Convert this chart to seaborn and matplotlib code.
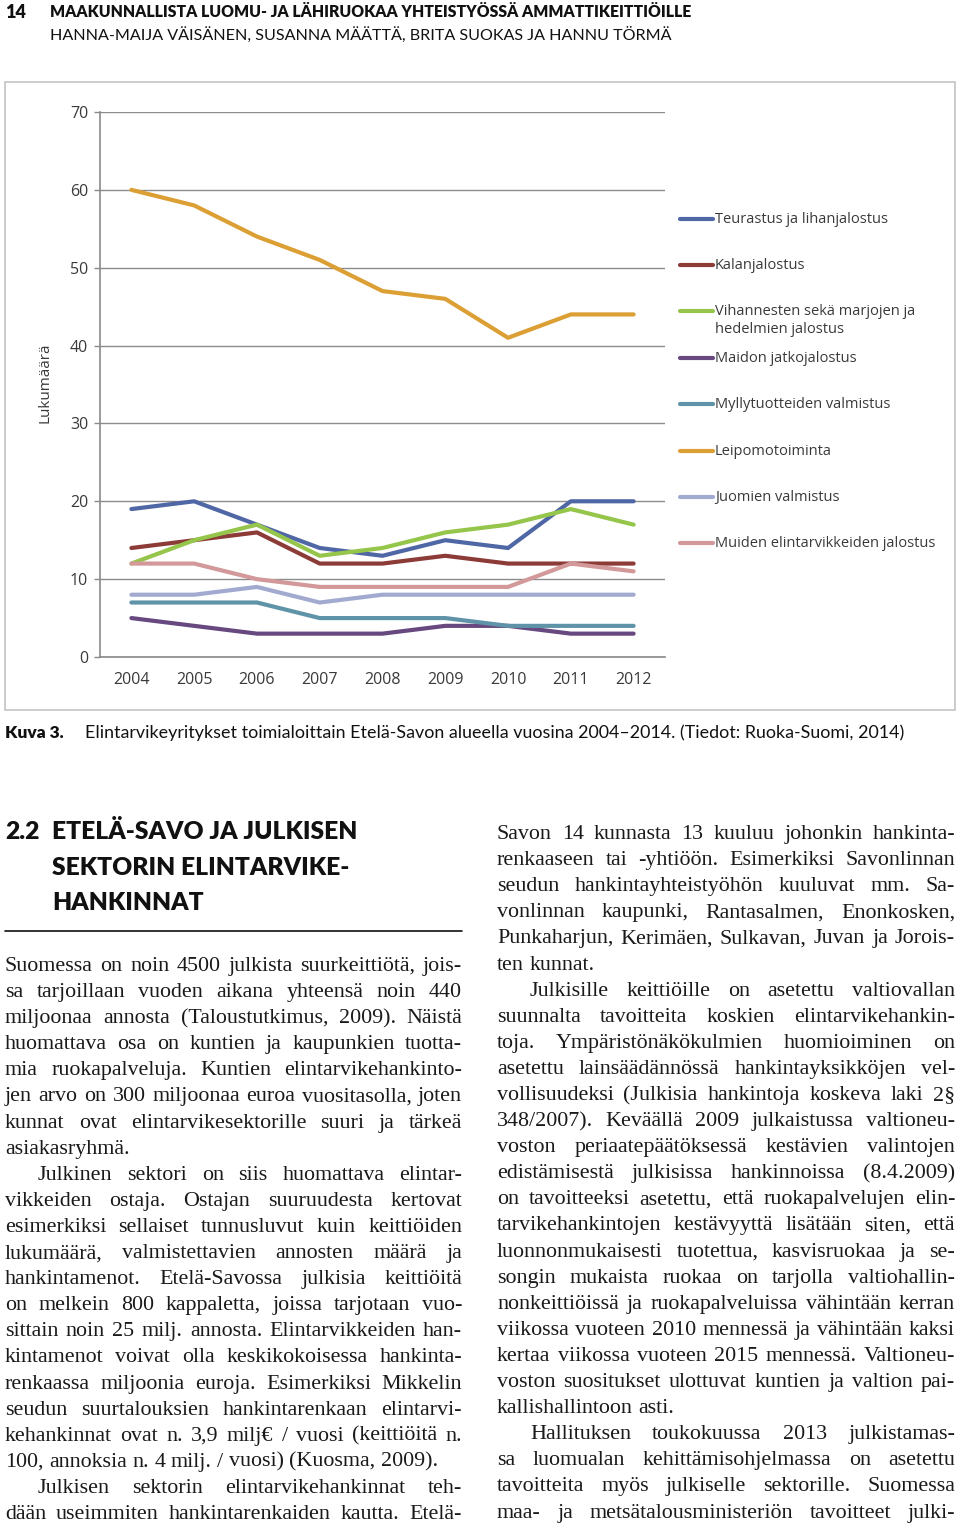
import numpy as np
import pandas as pd
import seaborn as sns
import matplotlib.pyplot as plt
from matplotlib.lines import Line2D
from matplotlib.patches import Rectangle

sns.set_style("white")
plt.rcParams['font.family'] = ['Open Sans', 'DejaVu Sans']

W, H = 960, 1530

# --- chart data ---
years = [2004, 2005, 2006, 2007, 2008, 2009, 2010, 2011, 2012]
categories = ["Teurastus ja lihanjalostus", "Kalanjalostus",
              "Vihannesten sekä marjojen ja\nhedelmien jalostus",
              "Maidon jatkojalostus", "Myllytuotteiden valmistus",
              "Leipomotoiminta", "Juomien valmistus",
              "Muiden elintarvikkeiden jalostus"]
teurastus = [19, 20, 17, 14, 13, 15, 14, 20, 20]
kalanjalostus = [14, 15, 16, 12, 12, 13, 12, 12, 12]
vihannes = [12, 15, 17, 13, 14, 16, 17, 19, 17]
maidon = [5, 4, 3, 3, 3, 4, 4, 3, 3]
mylly = [7, 7, 7, 5, 5, 5, 4, 4, 4]
leipomo = [60, 58, 54, 51, 47, 46, 41, 44, 44]
juomien = [8, 8, 9, 7, 8, 8, 8, 8, 8]
muiden = [12, 12, 10, 9, 9, 9, 9, 12, 11]
colors = ["#5067a6", "#8c3b37", "#95c54a", "#67497f",
          "#5f93a8", "#dc9f34", "#a3aad0", "#d3999a"]
yticks = [0, 10, 20, 30, 40, 50, 60, 70]

series = [teurastus, kalanjalostus, vihannes, maidon, mylly, leipomo, juomien, muiden]
df = pd.DataFrame({
    "year": years * len(categories),
    "value": [v for s in series for v in s],
    "category": [c for c in categories for _ in years],
})

# --- text content ---
header1 = "MAAKUNNALLISTA LUOMU- JA LÄHIRUOKAA YHTEISTYÖSSÄ AMMATTIKEITTIÖILLE"
header2 = "HANNA-MAIJA VÄISÄNEN, SUSANNA MÄÄTTÄ, BRITA SUOKAS JA HANNU TÖRMÄ"
caption = "Elintarvikeyritykset toimialoittain Etelä-Savon alueella vuosina 2004–2014. (Tiedot: Ruoka-Suomi, 2014)"
heading = ["ETELÄ-SAVO JA JULKISEN", "SEKTORIN ELINTARVIKE-", "HANKINNAT"]

# (indent, paragraph ends in this column, lines)
left_col = [
    (False, True, [
        "Suomessa on noin 4500 julkista suurkeittiötä, jois-",
        "sa tarjoillaan vuoden aikana yhteensä noin 440",
        "miljoonaa annosta (Taloustutkimus, 2009). Näistä",
        "huomattava osa on kuntien ja kaupunkien tuotta-",
        "mia ruokapalveluja. Kuntien elintarvikehankinto-",
        "jen arvo on 300 miljoonaa euroa vuositasolla, joten",
        "kunnat ovat elintarvikesektorille suuri ja tärkeä",
        "asiakasryhmä."]),
    (True, True, [
        "Julkinen sektori on siis huomattava elintar-",
        "vikkeiden ostaja. Ostajan suuruudesta kertovat",
        "esimerkiksi sellaiset tunnusluvut kuin keittiöiden",
        "lukumäärä, valmistettavien annosten määrä ja",
        "hankintamenot. Etelä-Savossa julkisia keittiöitä",
        "on melkein 800 kappaletta, joissa tarjotaan vuo-",
        "sittain noin 25 milj. annosta. Elintarvikkeiden han-",
        "kintamenot voivat olla keskikokoisessa hankinta-",
        "renkaassa miljoonia euroja. Esimerkiksi Mikkelin",
        "seudun suurtalouksien hankintarenkaan elintarvi-",
        "kehankinnat ovat n. 3,9 milj€ / vuosi (keittiöitä n.",
        "100, annoksia n. 4 milj. / vuosi) (Kuosma, 2009)."]),
    (True, False, [
        "Julkisen sektorin elintarvikehankinnat teh-",
        "dään useimmiten hankintarenkaiden kautta. Etelä-"]),
]
right_col = [
    (False, True, [
        "Savon 14 kunnasta 13 kuuluu johonkin hankinta-",
        "renkaaseen tai -yhtiöön. Esimerkiksi Savonlinnan",
        "seudun hankintayhteistyöhön kuuluvat mm. Sa-",
        "vonlinnan kaupunki, Rantasalmen, Enonkosken,",
        "Punkaharjun, Kerimäen, Sulkavan, Juvan ja Jorois-",
        "ten kunnat."]),
    (True, True, [
        "Julkisille keittiöille on asetettu valtiovallan",
        "suunnalta tavoitteita koskien elintarvikehankin-",
        "toja. Ympäristönäkökulmien huomioiminen on",
        "asetettu lainsäädännössä hankintayksikköjen vel-",
        "vollisuudeksi (Julkisia hankintoja koskeva laki 2§",
        "348/2007). Keväällä 2009 julkaistussa valtioneu-",
        "voston periaatepäätöksessä kestävien valintojen",
        "edistämisestä julkisissa hankinnoissa (8.4.2009)",
        "on tavoitteeksi asetettu, että ruokapalvelujen elin-",
        "tarvikehankintojen kestävyyttä lisätään siten, että",
        "luonnonmukaisesti tuotettua, kasvisruokaa ja se-",
        "songin mukaista ruokaa on tarjolla valtiohallin-",
        "nonkeittiöissä ja ruokapalveluissa vähintään kerran",
        "viikossa vuoteen 2010 mennessä ja vähintään kaksi",
        "kertaa viikossa vuoteen 2015 mennessä. Valtioneu-",
        "voston suositukset ulottuvat kuntien ja valtion pai-",
        "kallishallintoon asti."]),
    (True, False, [
        "Hallituksen toukokuussa 2013 julkistamas-",
        "sa luomualan kehittämisohjelmassa on asetettu",
        "tavoitteita myös julkiselle sektorille. Suomessa",
        "maa- ja metsätalousministeriön tavoitteet julki-"]),
]

fig = plt.figure(figsize=(W / 100, H / 100), dpi=100)
fig.patch.set_facecolor("white")
r = fig.canvas.get_renderer()


def fx(x):
    return x / W


def fy(y):
    return 1 - y / H


# --- chart ---
fig.add_artist(Rectangle((fx(5), fy(710)), fx(950), (710 - 82) / H,
                         transform=fig.transFigure, fill=False,
                         edgecolor="#c8c8c8", lw=1.3))

ax = fig.add_axes([fx(100), fy(657), (665 - 100) / W, (657 - 112) / H])
pal = dict(zip(categories, colors))
sns.lineplot(data=df, x="year", y="value", hue="category", hue_order=categories,
             palette=pal, linewidth=3.0, legend=False, ax=ax,
             solid_capstyle="round")
ax.set_xlim(years[0] - 0.5, years[-1] + 0.5)
ax.set_ylim(0, 70)
ax.set_yticks(yticks)
ax.set_xticks(years)
ax.set_xticks(np.arange(years[0] - 0.5, years[-1] + 1, 1), minor=True)
ax.tick_params(axis="x", which="major", length=0, pad=11, labelsize=11.5, colors="#3a3a3a")
ax.tick_params(axis="x", which="minor", length=4.5, width=1, color="#8a8a8a", direction="out")
ax.tick_params(axis="y", length=4.5, width=1, color="#8a8a8a", direction="out",
               pad=4, labelsize=11.5, labelcolor="#3a3a3a", left=True)
ax.set_xlabel("")
ax.set_ylabel("")
for sp in ["top", "right"]:
    ax.spines[sp].set_visible(False)
for sp in ["left", "bottom"]:
    ax.spines[sp].set_color("#8a8a8a")
    ax.spines[sp].set_linewidth(1.2)
ax.yaxis.grid(True, color="#8c8c8c", lw=1.0)
ax.set_axisbelow(True)
ax.set_facecolor("none")

fig.text(fx(45), fy(383), "Lukumäärä", rotation=90, ha="center", va="center",
         fontsize=11, color="#3a3a3a")

# legend (drawn by hand so the wrapped entry keeps Excel-like spacing)
leg_y = [219, 265, 311, 358, 404, 451, 497, 543]
for lab, col, ly in zip(categories, colors, leg_y):
    fig.add_artist(Line2D([fx(680), fx(713)], [fy(ly), fy(ly)], transform=fig.transFigure,
                          color=col, lw=3.0, solid_capstyle="round"))
    fig.text(fx(715), fy(ly - 7), lab, ha="left", va="top", fontsize=10.5,
             color="#3a3a3a", linespacing=1.3)


def fit_text(x0, x1, yc, s, size, **kw):
    t = fig.text(fx(x0), fy(yc), s, fontsize=size, ha="left", va="center", **kw)
    w = t.get_window_extent(r).width
    t.set_fontsize(size * (x1 - x0) / w)
    return t


# --- page header ---
sans_c = ["Lato", "DejaVu Sans"]
fig.text(fx(5), fy(12), "14", fontsize=13, fontweight="heavy", ha="left", va="center",
         family=sans_c, color="#111111")
fit_text(50, 690, 12, header1, 12, fontweight="heavy", family=sans_c, color="#111111")
fit_text(50, 670, 35, header2, 12, family=sans_c, color="#111111")

# --- caption ---
fit_text(5, 64, 733, "Kuva 3.", 11, fontweight="heavy", family=sans_c, color="#111111")
fit_text(85, 903, 733, caption, 11, family=sans_c, color="#111111")

# --- section heading ---
h1 = fit_text(52, 357, 832, heading[0], 18, fontweight="heavy", family=sans_c, color="#111111")
hs = h1.get_fontsize()
fig.text(fx(5), fy(832), "2.2", fontsize=hs, fontweight="heavy", family=sans_c,
         ha="left", va="center", color="#111111")
for line, yc in zip(heading[1:], [868, 903]):
    fig.text(fx(52), fy(yc), line, fontsize=hs, fontweight="heavy", family=sans_c,
             ha="left", va="center", color="#111111")
fig.add_artist(Line2D([fx(5), fx(462)], [fy(931), fy(931)], transform=fig.transFigure,
                      color="#111111", lw=1.2))

# --- body text, justified ---
serif = ["Liberation Serif", "DejaVu Serif"]
base_size = 14.0


def text_w(s, size):
    t = fig.text(0, 0, s, fontsize=size, family=serif)
    w = t.get_window_extent(r).width
    t.remove()
    return w


# pick the largest size at which every justified line still fits its column
sp0 = text_w("a a", base_size) - text_w("aa", base_size)
ratios = []
for paras, width in [(left_col, 457), (right_col, 458)]:
    for ind, ends, lines in paras:
        for i, line in enumerate(lines):
            if ends and i == len(lines) - 1:
                continue
            words = line.split(" ")
            nat = sum(text_w(w, base_size) for w in words) + sp0 * (len(words) - 1)
            avail = width - (33 if (ind and i == 0) else 0)
            ratios.append(avail / nat)
body_size = base_size * min(ratios) * 0.995
space_w = text_w("a a", body_size) - text_w("aa", body_size)


def set_column(paras, x0, x1, y0, dy, indent=33):
    yb = y0
    for ind, ends, lines in paras:
        for i, line in enumerate(lines):
            start = x0 + (indent if (ind and i == 0) else 0)
            words = line.split(" ")
            ts = [fig.text(0, fy(yb), w, fontsize=body_size, family=serif,
                           ha="left", va="baseline", color="#1a1a1a") for w in words]
            ws = [t.get_window_extent(r).width for t in ts]
            last = ends and i == len(lines) - 1
            if not last and len(words) > 1:
                gap = (x1 - start - sum(ws)) / (len(words) - 1)
            else:
                gap = space_w
            cx = start
            for t, w in zip(ts, ws):
                t.set_x(fx(cx))
                cx += w + gap
            yb += dy


set_column(left_col, 5, 462, 971, 26.1)
set_column(right_col, 497, 955, 839, 26.1)

fig.savefig("out.png", dpi=100, facecolor="white")
